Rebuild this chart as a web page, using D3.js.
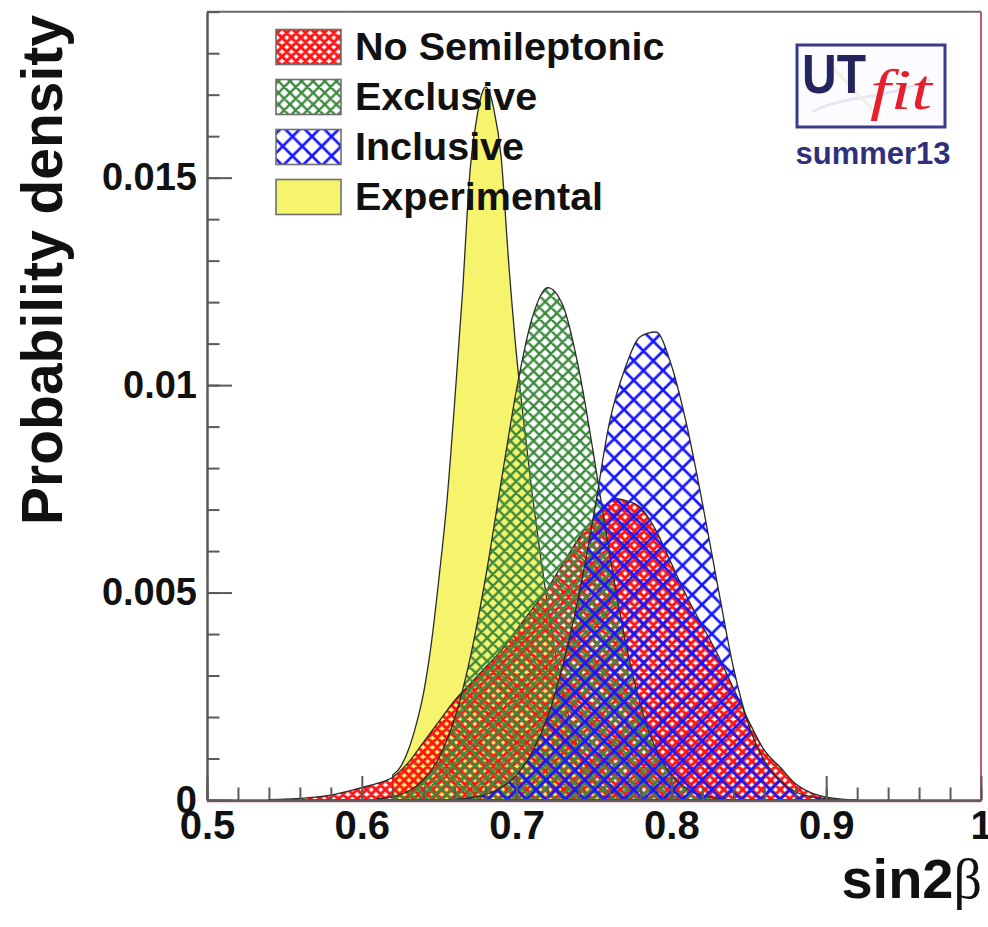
<!DOCTYPE html>
<html>
<head>
<meta charset="utf-8">
<script src="https://cdn.jsdelivr.net/npm/d3@7"></script>
<style>
  body { margin: 0; background: #fff; }
  svg { display: block; }
</style>
</head>
<body>
<svg id="chart" width="988" height="927"></svg>
<script>
// ---- axis ticks and labels ----
const xTicks = [0.5, 0.6, 0.7, 0.8, 0.9, 1.0];
const xTickLabels = ["0.5", "0.6", "0.7", "0.8", "0.9", "1"];
const yTicks = [0, 0.005, 0.01, 0.015];
const yTickLabels = ["0", "0.005", "0.01", "0.015"];

// ---- legend entries ----
const seriesNames = ["No Semileptonic", "Exclusive", "Inclusive", "Experimental"];

// ---- sin2beta probability density, one series per fit ----
const xExperimental = [0.62, 0.625, 0.63, 0.635, 0.64, 0.645, 0.65, 0.655, 0.66, 0.665, 0.67, 0.675, 0.6775, 0.68,
  0.6825, 0.685, 0.69, 0.695, 0.70, 0.705, 0.71, 0.715, 0.72, 0.73, 0.74, 0.75, 0.76, 0.77, 0.78];
const yExperimental = [0.0006, 0.0008, 0.0012, 0.0018, 0.0026, 0.0038, 0.0054, 0.0072, 0.0096, 0.0122, 0.0152, 0.0166, 0.01702, 0.01718,
  0.01705, 0.0167, 0.0155, 0.0129, 0.0107, 0.009, 0.0074, 0.006, 0.0047, 0.0026, 0.0012, 0.0005, 0.0002, 0.00005, 0];

const xNoSemi = [0.54, 0.55, 0.56, 0.57, 0.58, 0.59, 0.60, 0.61, 0.62, 0.63, 0.64, 0.65, 0.66, 0.67, 0.68, 0.69,
  0.70, 0.71, 0.72, 0.73, 0.74, 0.75, 0.76, 0.765, 0.77, 0.78, 0.79, 0.80, 0.81, 0.82, 0.83, 0.84, 0.85, 0.86, 0.87,
  0.88, 0.89, 0.90, 0.91, 0.92];
const yNoSemi = [0.00001, 0.00002, 0.00004, 0.00007, 0.00012, 0.0002, 0.0003, 0.0004, 0.00055, 0.0009, 0.0014, 0.0019, 0.0024, 0.0028, 0.0032, 0.0036,
  0.0041, 0.0046, 0.0051, 0.0057, 0.0063, 0.0068, 0.00718, 0.00726, 0.00722, 0.00705, 0.0065, 0.0057, 0.0049, 0.0042, 0.0035, 0.0027, 0.0019, 0.0012, 0.0008,
  0.0004, 0.00018, 0.00007, 0.00002, 0];

const xExclusive = [0.61, 0.62, 0.63, 0.64, 0.65, 0.66, 0.67, 0.68, 0.69, 0.70, 0.71, 0.72, 0.73, 0.74, 0.75,
  0.76, 0.77, 0.78, 0.79, 0.80, 0.81, 0.82, 0.83, 0.84];
const yExclusive = [0.00003, 0.00008, 0.00021, 0.00049, 0.00103, 0.00197, 0.00342, 0.00537, 0.00766, 0.0099, 0.01161, 0.01235, 0.01191, 0.01042, 0.00827,
  0.00595, 0.00388, 0.0023, 0.00123, 0.0006, 0.00027, 0.00011, 0.00004, 0];

const xInclusive = [0.66, 0.67, 0.68, 0.69, 0.70, 0.71, 0.72, 0.73, 0.74, 0.75, 0.76, 0.77, 0.78, 0.79, 0.80,
  0.81, 0.82, 0.83, 0.84, 0.85, 0.86, 0.87, 0.88, 0.89, 0.90, 0.91];
const yInclusive = [0.00002, 0.00005, 0.00013, 0.0003, 0.0006, 0.00115, 0.002, 0.00327, 0.00489, 0.0069, 0.0091, 0.0104, 0.01117, 0.01128, 0.01048,
  0.00902, 0.00716, 0.00515, 0.0032, 0.0018, 0.00095, 0.00048, 0.0002, 0.00008, 0.00003, 0];

const svg = d3.select("#chart");
const FONT = "'Liberation Sans', Arial, Helvetica, sans-serif";

const x = d3.scaleLinear().domain([0.5, 1.0]).range([207, 981]);
const y = d3.scaleLinear().domain([0, 0.019]).range([800, 11.7]);

// ---- hatch patterns (45 degree cross hatching, transparent background) ----
const defs = svg.append("defs");
function crossHatch(id, period, color, width) {
  const p = defs.append("pattern")
    .attr("id", id)
    .attr("patternUnits", "userSpaceOnUse")
    .attr("width", period).attr("height", period);
  let d = "";
  for (const k of [-period, 0, period]) {
    d += `M0,${k}L${period},${period + k}M0,${period + k}L${period},${k}`;
  }
  p.append("path").attr("d", d)
    .attr("stroke", color).attr("stroke-width", width).attr("fill", "none");
}
crossHatch("hatch-nosemi", 9.4, "#ff1414", 3.1);
crossHatch("hatch-excl", 11.6, "#3d8a3d", 2.4);
crossHatch("hatch-incl", 19.5, "#1616ff", 2.7);

const series = [
  { name: seriesNames[3], xs: xExperimental, ys: yExperimental, fill: "#f6f46c" },
  { name: seriesNames[0], xs: xNoSemi, ys: yNoSemi, fill: "url(#hatch-nosemi)" },
  { name: seriesNames[1], xs: xExclusive, ys: yExclusive, fill: "url(#hatch-excl)" },
  { name: seriesNames[2], xs: xInclusive, ys: yInclusive, fill: "url(#hatch-incl)" }
];

const area = d3.area()
  .x(d => x(d[0]))
  .y0(y(0))
  .y1(d => y(d[1]))
  .curve(d3.curveMonotoneX);

const plot = svg.append("g");
series.forEach(s => {
  const pts = s.xs.map((v, i) => [v, s.ys[i]]);
  plot.append("path")
    .attr("d", area(pts))
    .attr("fill", s.fill)
    .attr("stroke", "#2a2a2a")
    .attr("stroke-width", 1.3);
});

// ---- frame ----
svg.append("line").attr("x1", 207).attr("x2", 981).attr("y1", 11.7).attr("y2", 11.7)
  .attr("stroke", "#6a6a6a").attr("stroke-width", 2);
svg.append("line").attr("x1", 981).attr("x2", 981).attr("y1", 11.7).attr("y2", 801)
  .attr("stroke", "#c9576a").attr("stroke-width", 2);
svg.append("line").attr("x1", 207).attr("x2", 981).attr("y1", 801.5).attr("y2", 801.5)
  .attr("stroke", "#c9576a").attr("stroke-width", 1.5);

// ---- axes ----
const yAxisMinor = svg.append("g").attr("transform", "translate(207,0)")
  .call(d3.axisLeft(y).tickValues(y.ticks(19)).tickFormat("").tickSize(-12.5).tickSizeOuter(0));
const yAxis = svg.append("g").attr("transform", "translate(207,0)")
  .call(d3.axisLeft(y).tickValues(yTicks).tickFormat((d, i) => yTickLabels[i])
    .tickSize(-25).tickSizeOuter(0).tickPadding(10));
const xAxisMinor = svg.append("g").attr("transform", "translate(0,800)")
  .call(d3.axisBottom(x).tickValues(x.ticks(25)).tickFormat("").tickSize(-12.5).tickSizeOuter(0));
const xAxis = svg.append("g").attr("transform", "translate(0,800)")
  .call(d3.axisBottom(x).tickValues(xTicks).tickFormat((d, i) => xTickLabels[i])
    .tickSize(-24).tickSizeOuter(0).tickPadding(11));

[yAxisMinor, yAxis, xAxisMinor, xAxis].forEach(g => {
  g.selectAll("path.domain").attr("stroke", "#5a5a5a").attr("stroke-width", 2);
  g.selectAll(".tick line").attr("stroke", "#5a5a5a").attr("stroke-width", 2);
});
yAxis.selectAll("text")
  .attr("font-family", FONT).attr("font-weight", "bold").attr("font-size", 38).attr("fill", "#111");
xAxis.selectAll("text")
  .attr("font-family", FONT).attr("font-weight", "bold").attr("font-size", 40).attr("fill", "#111");

// ---- axis titles ----
svg.append("text")
  .attr("transform", "translate(62,15) rotate(-90)")
  .attr("text-anchor", "end")
  .attr("font-family", FONT).attr("font-weight", "bold").attr("font-size", 57).attr("fill", "#111")
  .text("Probability density");

const xt = svg.append("text")
  .attr("x", 982).attr("y", 898)
  .attr("text-anchor", "end")
  .attr("font-family", FONT).attr("font-weight", "bold").attr("font-size", 56).attr("fill", "#111");
xt.append("tspan").text("sin2");
xt.append("tspan").attr("font-family", "'Liberation Serif', 'DejaVu Serif', serif")
  .attr("font-weight", "normal").text("β");

// ---- legend ----
const legendFills = ["url(#hatch-nosemi)", "url(#hatch-excl)", "url(#hatch-incl)", "#f6f46c"];
const legend = svg.append("g");
seriesNames.forEach((name, i) => {
  const cy = 46.5 + i * 50;
  legend.append("rect")
    .attr("x", 276).attr("y", cy - 17).attr("width", 65).attr("height", 35)
    .attr("fill", legendFills[i]).attr("stroke", "#6e6e6e").attr("stroke-width", 1.6);
  legend.append("text")
    .attr("x", 355).attr("y", cy + 13)
    .attr("font-family", FONT).attr("font-weight", "bold").attr("font-size", 39.5).attr("fill", "#111")
    .text(name);
});

// ---- UTfit logo ----
const logo = svg.append("g");
logo.append("rect").attr("x", 797).attr("y", 45).attr("width", 148).attr("height", 82)
  .attr("fill", "#fcfbff").attr("stroke", "#3b3b8e").attr("stroke-width", 3);
logo.append("path").attr("d", "M812,112 C840,96 880,100 930,80")
  .attr("fill", "none").attr("stroke", "#e9e4f4").attr("stroke-width", 3);
logo.append("path").attr("d", "M826,60 L880,118")
  .attr("fill", "none").attr("stroke", "#eef2e2").attr("stroke-width", 3);
logo.append("text").attr("x", 802).attr("y", 93)
  .attr("font-family", FONT).attr("font-weight", "bold").attr("font-size", 56)
  .attr("textLength", 64).attr("lengthAdjust", "spacingAndGlyphs")
  .attr("fill", "#24245f").text("UT");
logo.append("text").attr("x", 870).attr("y", 109)
  .attr("font-family", "'Liberation Serif', 'DejaVu Serif', serif").attr("font-style", "italic")
  .attr("font-size", 56).attr("textLength", 62).attr("lengthAdjust", "spacingAndGlyphs")
  .attr("fill", "#e3202c").text("fit");
logo.append("text").attr("x", 873).attr("y", 164)
  .attr("text-anchor", "middle")
  .attr("font-family", FONT).attr("font-weight", "bold").attr("font-size", 31)
  .attr("fill", "#2f2f7c").text("summer13");
</script>
</body>
</html>
